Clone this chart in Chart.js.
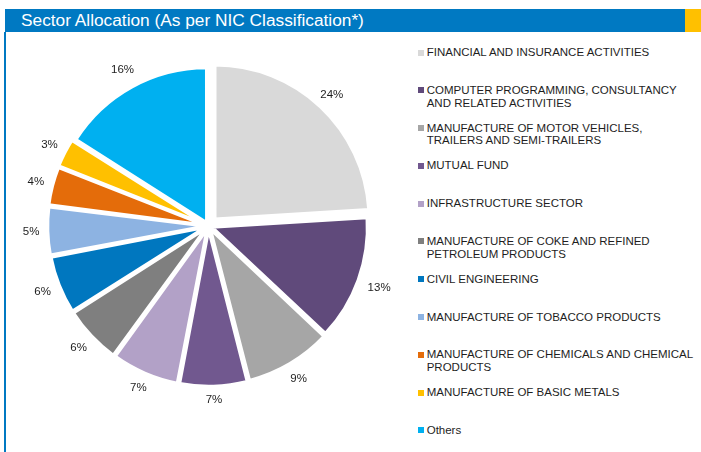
<!DOCTYPE html>
<html>
<head>
<meta charset="utf-8">
<script src="https://cdn.jsdelivr.net/npm/chart.js@4"></script>
<style>
    body { margin: 0; width: 701px; height: 452px; background: #fff; position: relative; overflow: hidden; font-family: "Liberation Sans", Arial, sans-serif; }
    .header { position: absolute; left: 5px; top: 9px; width: 680px; height: 23px; background: #0079c2; }
    .header span { position: absolute; left: 16px; top: 0; line-height: 23px; color: #fff; font-size: 17.3px; white-space: nowrap; }
    .accent { position: absolute; left: 685px; top: 9px; width: 16px; height: 23px; background: #ffc000; }
    .sideline { position: absolute; left: 4px; top: 32px; width: 2px; height: 420px; background: #0079c2; }
    .pieBox { position: absolute; left: 0; top: 33px; width: 417px; height: 386px; }
    #legend { position: absolute; left: 418px; top: 46px; width: 283px; }
    .item { position: relative; height: 37.8px; font-size: 11.5px; line-height: 12.7px; color: #1e1e1e; }
    .item i { position: absolute; left: 0; top: 3.5px; width: 6px; height: 6px; }
    .item span { position: absolute; left: 8.7px; top: 0; width: 273px; }
</style>
</head>
<body>
<div class="header"><span>Sector Allocation (As per NIC Classification*)</span></div>
<div class="accent"></div>
<div class="sideline"></div>
<div class="pieBox"><canvas id="sectorPie"></canvas></div>
<div id="legend"></div>
<script>
const sectors = [
    'FINANCIAL AND INSURANCE ACTIVITIES',
    'COMPUTER PROGRAMMING, CONSULTANCY AND RELATED ACTIVITIES',
    'MANUFACTURE OF MOTOR VEHICLES, TRAILERS AND SEMI-TRAILERS',
    'MUTUAL FUND',
    'INFRASTRUCTURE SECTOR',
    'MANUFACTURE OF COKE AND REFINED PETROLEUM PRODUCTS',
    'CIVIL ENGINEERING',
    'MANUFACTURE OF TOBACCO PRODUCTS',
    'MANUFACTURE OF CHEMICALS AND CHEMICAL PRODUCTS',
    'MANUFACTURE OF BASIC METALS',
    'Others'
];
const allocation = [24, 13, 9, 7, 7, 6, 6, 5, 4, 3, 16];
const sliceColors = ['#d9d9d9', '#604a7b', '#a6a6a6', '#71588f', '#b2a1c7', '#7f7f7f',
    '#0077bf', '#8db3e2', '#e46c0a', '#ffc000', '#00b0f0'];
// Chart.js v4 draws arcs shifted by offset / 4
const sliceOffsets = [38, 16, 16, 16, 16, 16, 16, 16, 16, 16, 16];

// legend built from the same arrays
const legendEl = document.getElementById('legend');
sectors.forEach((name, i) => {
    const row = document.createElement('div');
    row.className = 'item';
    row.innerHTML = '<i style="background:' + sliceColors[i] + '"></i><span>' + name + '</span>';
    legendEl.appendChild(row);
});

// percent labels outside each slice
const outsideLabels = {
    id: 'outsideLabels',
    afterDatasetsDraw(chart) {
        const ctx = chart.ctx;
        const arcs = chart.getDatasetMeta(0).data;
        ctx.save();
        ctx.font = '11.5px "Liberation Sans", Arial, sans-serif';
        ctx.fillStyle = '#1e1e1e';
        ctx.textAlign = 'center';
        ctx.textBaseline = 'middle';
        arcs.forEach((arc, i) => {
            const text = allocation[i] + '%';
            const w = ctx.measureText(text).width;
            const mid = (arc.startAngle + arc.endAngle) / 2;
            const cx = Math.cos(mid), sy = Math.sin(mid);
            const dist = arc.outerRadius + 15 + w / 2 * Math.abs(cx) + 4.5 * Math.abs(sy);
            ctx.fillText(text, arc.x + cx * dist, arc.y + sy * dist);
        });
        ctx.restore();
    }
};

const pieCtx = document.getElementById('sectorPie').getContext('2d');
new Chart(pieCtx, {
    type: 'pie',
    data: {
        labels: sectors,
        datasets: [{
            data: allocation,
            backgroundColor: sliceColors,
            borderColor: '#ffffff',
            borderWidth: 3,
            offset: sliceOffsets
        }]
    },
    options: {
        responsive: true,
        maintainAspectRatio: false,
        animation: false,
        radius: 154,
        layout: { padding: 0 },
        plugins: {
            legend: { display: false },
            tooltip: { enabled: false }
        }
    },
    plugins: [outsideLabels]
});
</script>
</body>
</html>
